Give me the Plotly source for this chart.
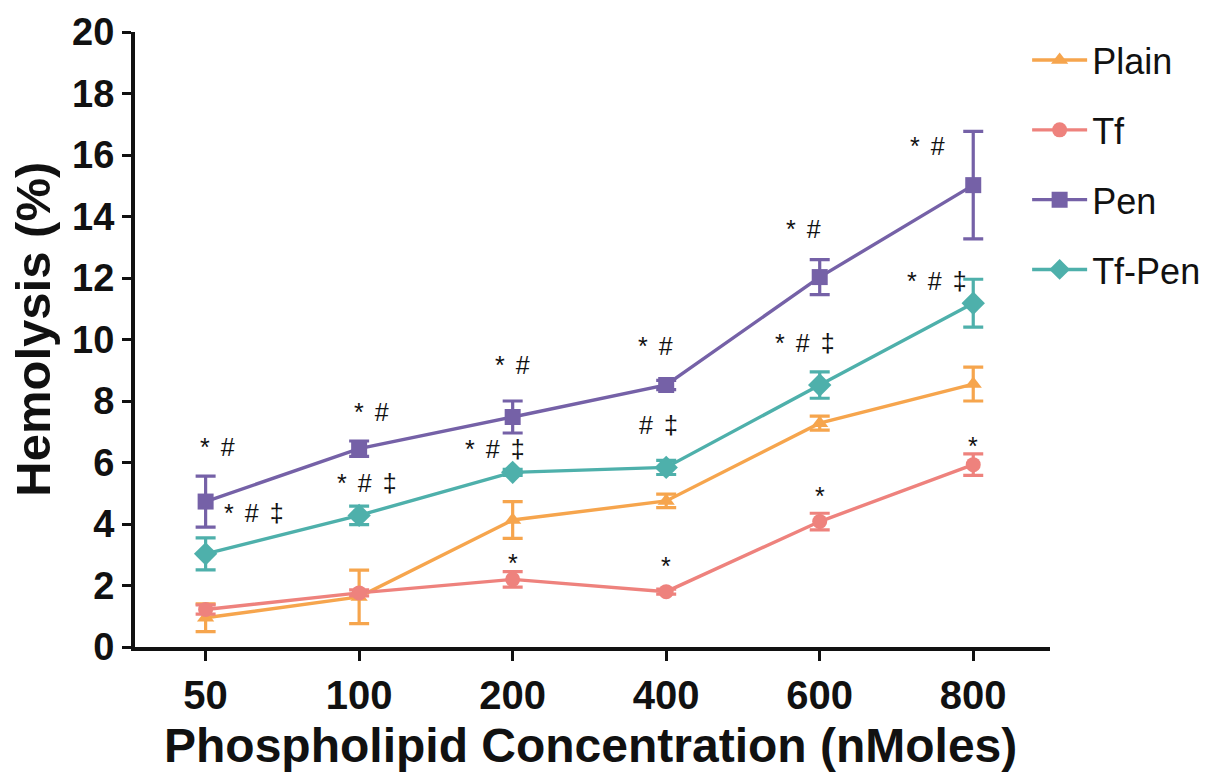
import plotly.graph_objects as go

categories = ["50", "100", "200", "400", "600", "800"]

plain = [0.95, 1.63, 4.13, 4.75, 7.28, 8.55]
plain_err = [0.45, 0.87, 0.60, 0.22, 0.23, 0.55]

tf = [1.22, 1.76, 2.20, 1.80, 4.08, 5.93]
tf_err = [0.15, 0.10, 0.25, 0.08, 0.27, 0.35]

pen = [4.73, 6.45, 7.48, 8.52, 12.03, 15.02]
pen_err = [0.83, 0.25, 0.52, 0.15, 0.57, 1.75]

tfpen = [3.03, 4.28, 5.68, 5.84, 8.52, 11.18]
tfpen_err = [0.52, 0.30, 0.10, 0.23, 0.43, 0.78]

series_names = ["Plain", "Tf", "Pen", "Tf-Pen"]
colors = ["#F6A54D", "#EE827D", "#7561A7", "#4EB0AB"]
symbols = ["triangle-up", "circle", "square", "diamond"]
marker_sizes = [15, 15, 16, 18]

# significance labels: (category, y value, label, horizontal pixel shift)
SP = "\u00a0\u2006"
sig_labels = [
    ("50", 6.5, "*" + SP + "#", 12),
    ("50", 4.36, "*" + SP + "#" + SP + "‡", 48),
    ("100", 7.64, "*" + SP + "#", 12),
    ("100", 5.33, "*" + SP + "#" + SP + "‡", 8),
    ("200", 9.17, "*" + SP + "#", 0),
    ("200", 6.44, "*" + SP + "#" + SP + "‡", -18),
    ("200", 2.72, "*", 0),
    ("400", 9.8, "*" + SP + "#", -11),
    ("400", 7.22, "#" + SP + "‡", -8),
    ("400", 2.65, "*", 0),
    ("600", 13.6, "*" + SP + "#", -16),
    ("600", 9.9, "*" + SP + "#" + SP + "‡", -15),
    ("600", 4.92, "*", 0),
    ("800", 16.3, "*" + SP + "#", -46),
    ("800", 11.9, "*" + SP + "#" + SP + "‡", -36),
    ("800", 6.55, "*", 0),
]

values = [plain, tf, pen, tfpen]
errors = [plain_err, tf_err, pen_err, tfpen_err]

fig = go.Figure()
for i, name in enumerate(series_names):
    fig.add_trace(go.Scatter(
        x=categories, y=values[i], name=name, mode="lines+markers",
        legendgroup=name,
        line=dict(color=colors[i], width=3.4),
        marker=dict(symbol=symbols[i], size=marker_sizes[i], color=colors[i]),
        error_y=dict(type="data", array=errors[i], visible=True,
                     color=colors[i], thickness=3.2, width=10),
    ))

for cat, yv, txt, xs in sig_labels:
    fig.add_annotation(x=categories.index(cat), y=yv, xref="x", yref="y",
                       text=txt, showarrow=False, xshift=xs,
                       font=dict(family="Liberation Sans, Arial", size=25, color="#111111"))

# axis titles
fig.add_annotation(x=0.5, y=-0.16, xref="paper", yref="paper", xanchor="center", yanchor="middle",
                   text="<b>Phospholipid Concentration (nMoles)</b>", showarrow=False,
                   xshift=-2, font=dict(size=48, family="Liberation Sans, Arial", color="#111111"))
fig.add_annotation(x=0, y=0.516, xref="paper", yref="paper", xanchor="center", yanchor="middle",
                   text="<b>Hemolysis (%)</b>", showarrow=False, textangle=-90,
                   xshift=-102, font=dict(size=49, family="Liberation Sans, Arial", color="#111111"))

fig.update_layout(
    width=1209, height=772,
    margin=dict(l=135, r=159, t=32, b=125, autoexpand=False),
    plot_bgcolor="white", paper_bgcolor="white",
    font=dict(family="Liberation Sans, Arial", color="#111111"),
    showlegend=True,
    legend=dict(x=0.975, y=1.003, xanchor="left", yanchor="top",
                font=dict(size=36, family="Liberation Sans, Arial", color="#111111"),
                tracegroupgap=20, itemwidth=55, bgcolor="rgba(0,0,0,0)"),
)
fig.update_xaxes(
    type="category", categoryorder="array", categoryarray=categories,
    range=[-0.46, 5.5], automargin=False,
    showline=True, linecolor="#111111", linewidth=4,
    ticks="outside", ticklen=10, tickwidth=3, tickcolor="#111111",
    tickfont=dict(size=40, family="Liberation Sans, Arial", weight="bold"),
    showgrid=False, zeroline=False,
)
fig.update_yaxes(
    range=[0, 20], tickmode="linear", tick0=0, dtick=2, automargin=False,
    showline=True, linecolor="#111111", linewidth=4,
    ticks="outside", ticklen=9, tickwidth=3, tickcolor="#111111",
    tickfont=dict(size=38, family="Liberation Sans, Arial", weight="bold"),
    showgrid=False, zeroline=False,
)

fig.write_html("out.html")
